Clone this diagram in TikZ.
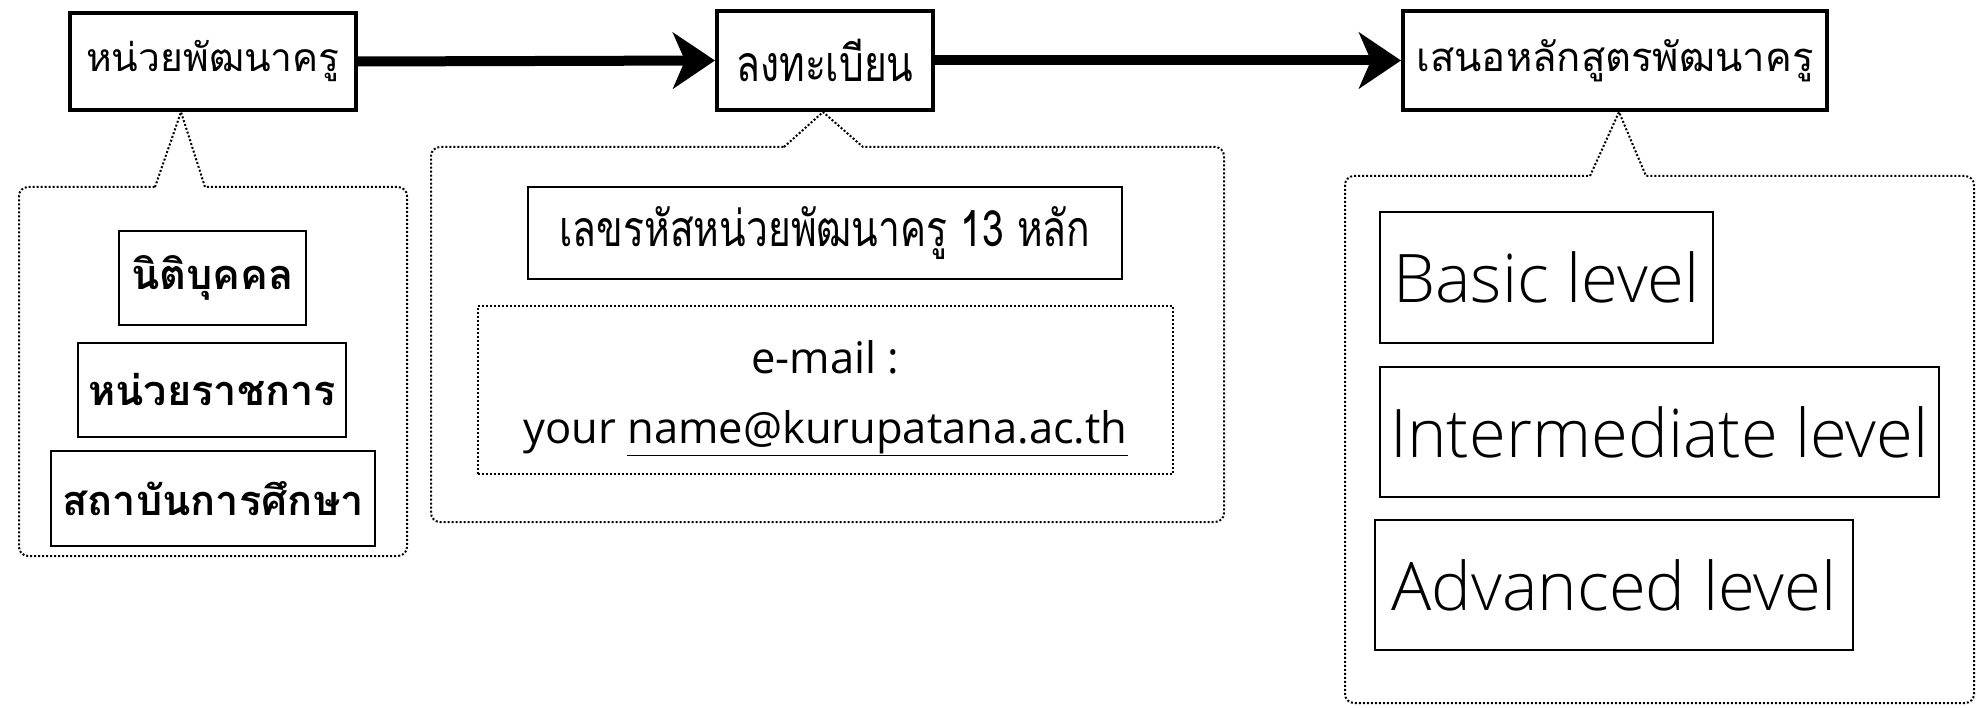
\documentclass[tikz,border=0pt]{standalone}
\usepackage{fontspec}
\newfontfamily\thai[Script=Thai]{Loma}
\newfontfamily\thaic[Script=Thai,FakeStretch=0.78]{Loma}
\newfontfamily\latn{Open Sans Light}
\newfontfamily\latm{Open Sans}
\usetikzlibrary{arrows.meta}
\tikzset{
  mainbox/.style={draw, line width=4pt, inner sep=0pt, font=\thai},
  subbox/.style={draw, line width=2pt, inner sep=0pt},
  callout/.style={draw, line width=2pt, dotted},
  flow/.style={line width=10pt, -{Stealth[length=42pt,width=56pt,inset=12pt]}},
}
\begin{document}
\begin{tikzpicture}[x=1pt,y=-1pt]
\useasboundingbox (0,0) rectangle (1982,708);
% main boxes
\node[mainbox, minimum width=286pt, minimum height=97pt, font=\thai\fontsize{39}{44}\selectfont] (a) at (213,61.5) {หน่วยพัฒนาครู};
\node[mainbox, minimum width=216pt, minimum height=99pt, font=\thaic\fontsize{50}{54}\selectfont] (b) at (825,60.5) {ลงทะเบียน};
\node[mainbox, minimum width=424pt, minimum height=99pt, font=\thai\fontsize{40}{44}\selectfont] (c) at (1615,60.5) {เสนอหลักสูตรพัฒนาครู};
\draw[flow] (a.east) -- (b.west);
\draw[flow] (b.east) -- (c.west);
% callouts
\coordinate (ta) at (181,112);
\coordinate (tb) at (823,112);
\coordinate (tc) at (1619,112);
\draw[callout] (155,187) -- (ta) -- (205,187) [rounded corners=9pt] -- (407,187) -- (407,556) -- (19,556) -- (19,187) -- (155,187);
\draw[callout] (784,147) -- (tb) -- (863,147) [rounded corners=9pt] -- (1224,147) -- (1224,522) -- (431,522) -- (431,147) -- (784,147);
\draw[callout] (1590,176) -- (tc) -- (1646,176) [rounded corners=9pt] -- (1974,176) -- (1974,703) -- (1345,703) -- (1345,176) -- (1590,176);
% left items
\node[subbox, minimum width=187pt, minimum height=94pt, font=\thai\bfseries\fontsize{41.5}{45}\selectfont] (n1) at (212.5,278) {นิติบุคคล};
\node[subbox, minimum width=268pt, minimum height=94pt, font=\thai\bfseries\fontsize{41.5}{45}\selectfont] (n2) at (212,390) {หน่วยราชการ};
\node[subbox, minimum width=324pt, minimum height=95pt, font=\thai\bfseries\fontsize{41.5}{45}\selectfont] (n3) at (213,498.5) {สถาบันการศึกษา};
% middle items
\node[subbox, minimum width=594pt, minimum height=92pt, font=\thaic\fontsize{50}{54}\selectfont] (code) at (825,233) {เลขรหัสหน่วยพัฒนาครู 13 หลัก};
\node[subbox, dotted, minimum width=695pt, minimum height=168pt] (mail) at (825.5,390) {};
\node[align=center, inner sep=0pt, font=\latm\fontsize{43.5}{70}\selectfont] (mailtext) at (825.5,398) {e-mail :\\your \underline{name@kurupatana.ac.th}};
% right items
\node[subbox, minimum width=333pt, minimum height=131pt, font=\latn\fontsize{67}{70}\selectfont] (l1) at (1546.5,277.5) {Basic level};
\node[subbox, minimum width=559pt, minimum height=130pt, font=\latn\fontsize{67}{70}\selectfont] (l2) at (1659.5,432) {Intermediate level};
\node[subbox, minimum width=478pt, minimum height=130pt, font=\latn\fontsize{67}{70}\selectfont] (l3) at (1614,585) {Advanced level};
\end{tikzpicture}
\end{document}
